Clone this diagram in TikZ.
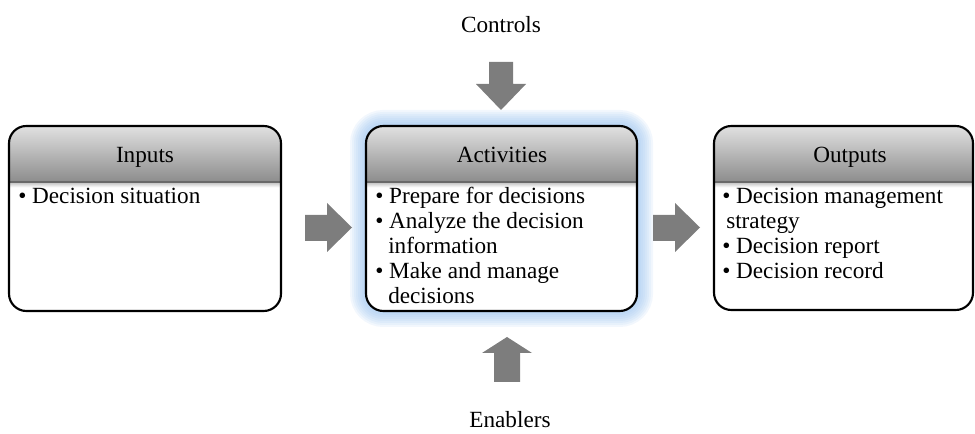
\documentclass[tikz,border=0pt]{standalone}
\usepackage{fontspec}
\setmainfont{Liberation Serif}
\usetikzlibrary{fit}
\definecolor{arrowgray}{RGB}{125,125,125}
\definecolor{glowblue}{RGB}{150,192,238}
\definecolor{hdrtop}{RGB}{225,225,225}
\definecolor{hdrmid}{RGB}{168,168,168}
\definecolor{hdrbot}{RGB}{140,140,140}
\definecolor{hdrline}{RGB}{105,105,105}
\definecolor{shadowgray}{RGB}{190,190,190}
\begin{document}
\begin{tikzpicture}[x=0.75pt,y=-0.75pt,
  txt/.style={inner sep=0pt, anchor=base west, font=\fontsize{17.4}{18.75}\selectfont},
  hdrtxt/.style={inner sep=0pt, anchor=base, font=\fontsize{17.4}{18.75}\selectfont},
  panelarea/.style={inner sep=0pt, outer sep=0pt},
  blockarrow/.style={fill=arrowgray},
  frame/.style={draw=black, line width=1.6pt, rounded corners=13pt}]
\useasboundingbox (0,0) rectangle (975,434);
% corner coordinates
\coordinate (inNW) at (9,126);   \coordinate (inSE) at (281,311);
\coordinate (acNW) at (366,126); \coordinate (acSE) at (637,311);
\coordinate (ouNW) at (714,126); \coordinate (ouSE) at (973,310);
\coordinate (hb) at (0,182);
\node[panelarea, fit=(inNW)(inSE)] (inputs) {};
\node[panelarea, fit=(acNW)(acSE)] (activities) {};
\node[panelarea, fit=(ouNW)(ouSE)] (outputs) {};
% glow around activities
\foreach \w in {32,28,24,20,16,12,8,4}
  \draw[glowblue, line width=\w*0.75pt, opacity=0.12, rounded corners=13pt]
    (activities.north west) rectangle (activities.south east);
% panels
\foreach \p in {inputs,activities,outputs}{
  \fill[white, rounded corners=13pt] (\p.north west) rectangle (\p.south east);
  \begin{scope}
    \clip[rounded corners=13pt] (\p.north west) rectangle (\p.south east);
    \shade[top color=hdrtop, middle color=hdrmid, bottom color=hdrbot]
      (\p.north west) rectangle (\p.east |- hb);
    \shade[top color=shadowgray, bottom color=white]
      (\p.west |- hb) rectangle ([yshift=-4pt]\p.east |- hb);
    \draw[hdrline, line width=0.8pt] (\p.west |- hb) -- (\p.east |- hb);
  \end{scope}
  \draw[frame] (\p.north west) rectangle (\p.south east);
}
% headers
\node[hdrtxt] (hin) at (145,163) {Inputs};
\node[hdrtxt] (hac) at (502,163) {Activities};
\node[hdrtxt] (hou) at (850,163) {Outputs};
% body texts
\node[txt] (in1) at (18,204) {• Decision situation};
\node[txt] (ac1) at (375,204) {• Prepare for decisions};
\node[txt] (ac2) at (375,229) {• Analyze the decision};
\node[txt] (ac3) at (388,254) {information};
\node[txt] (ac4) at (375,279) {• Make and manage};
\node[txt] (ac5) at (388,304) {decisions};
\node[txt] (ou1) at (722,204) {• Decision management};
\node[txt] (ou2) at (726,229) {strategy};
\node[txt] (ou3) at (722,254) {• Decision report};
\node[txt] (ou4) at (722,279) {• Decision record};
% controls and enablers
\node[hdrtxt] (controls) at (501,33) {Controls};
\node[hdrtxt] (enablers) at (510,428) {Enablers};
% block arrows
\fill[blockarrow] (305,215) -- (327,215) -- (327,203) -- (352,227.5) -- (327,252) -- (327,241) -- (305,241) -- cycle;
\fill[blockarrow] (653,215) -- (675,215) -- (675,203) -- (700,227.5) -- (675,252) -- (675,241) -- (653,241) -- cycle;
\fill[blockarrow] (489,62) -- (489,84) -- (476,84) -- (501,110) -- (526,84) -- (513,84) -- (513,62) -- cycle;
\fill[blockarrow] (494,382) -- (494,353) -- (482,353) -- (507,337) -- (532,353) -- (520,353) -- (520,382) -- cycle;
\end{tikzpicture}
\end{document}
